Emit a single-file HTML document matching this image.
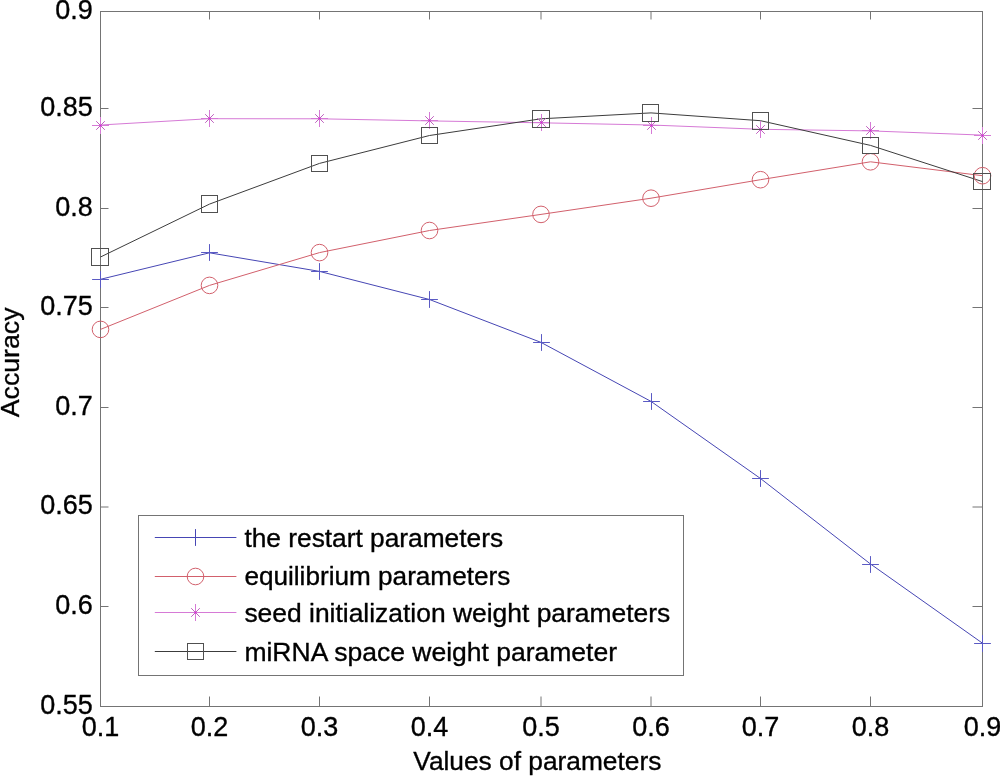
<!DOCTYPE html><html><head><meta charset="utf-8"><title>Accuracy vs parameters</title><style>html,body{margin:0;padding:0;background:#fff;width:1000px;height:776px;overflow:hidden}svg{display:block}text{font-family:"Liberation Sans",Arial,Helvetica,sans-serif;fill:#000;stroke:#000;stroke-width:0.35px;stroke-linejoin:round}</style></head><body>
<svg width="1000" height="776" viewBox="0 0 1000 776">
<rect width="1000" height="776" fill="#fff"/>
<g fill="none" stroke="#747474" stroke-width="1">
<rect x="100.5" y="11.5" width="882.0" height="695.0"/>
<path d="M209.5 706.5V696.5M209.5 11.5V19.5M319.5 706.5V696.5M319.5 11.5V19.5M429.5 706.5V696.5M429.5 11.5V19.5M541.0 706.5V696.5M541.0 11.5V19.5M651.0 706.5V696.5M651.0 11.5V19.5M760.5 706.5V696.5M760.5 11.5V19.5M870.5 706.5V696.5M870.5 11.5V19.5M100.5 108.5H108.5M982.5 108.5H972.5M100.5 208.5H108.5M982.5 208.5H972.5M100.5 307.5H108.5M982.5 307.5H972.5M100.5 407.5H108.5M982.5 407.5H972.5M100.5 507.0H108.5M982.5 507.0H972.5M100.5 606.5H108.5M982.5 606.5H972.5"/>
</g>
<g font-size="27">
<text x="92.8" y="18.9" text-anchor="end">0.9</text>
<text x="92.8" y="115.9" text-anchor="end">0.85</text>
<text x="92.8" y="215.9" text-anchor="end">0.8</text>
<text x="92.8" y="314.9" text-anchor="end">0.75</text>
<text x="92.8" y="414.9" text-anchor="end">0.7</text>
<text x="92.8" y="514.4" text-anchor="end">0.65</text>
<text x="92.8" y="613.9" text-anchor="end">0.6</text>
<text x="92.8" y="713.9" text-anchor="end">0.55</text>
<text x="100.5" y="736" text-anchor="middle">0.1</text>
<text x="209.5" y="736" text-anchor="middle">0.2</text>
<text x="319.5" y="736" text-anchor="middle">0.3</text>
<text x="429.5" y="736" text-anchor="middle">0.4</text>
<text x="541.0" y="736" text-anchor="middle">0.5</text>
<text x="651.0" y="736" text-anchor="middle">0.6</text>
<text x="760.5" y="736" text-anchor="middle">0.7</text>
<text x="870.5" y="736" text-anchor="middle">0.8</text>
<text x="982.5" y="736" text-anchor="middle">0.9</text>
</g>
<text x="413.3" y="770.3" font-size="26.3">Values of parameters</text>
<text transform="translate(18.8 362.35) rotate(-90)" text-anchor="middle" font-size="26.7">Accuracy</text>
<g fill="none" stroke-width="1">
<polyline points="100.5,279.3 209.5,252.8 319.5,271.4 429.5,299.5 541.0,342.4 651.0,401.4 760.5,478.5 870.5,564.0 982.5,643.2" stroke="#4646b4"/>
<polyline points="100.5,329.4 209.5,285.4 319.5,252.6 429.5,230.5 541.0,214.4 651.0,198.2 760.5,179.7 870.5,161.8 982.5,175.7" stroke="#d2606c"/>
<polyline points="100.5,125.0 209.5,118.7 319.5,118.8 429.5,120.9 541.0,122.8 651.0,125.0 760.5,129.3 870.5,130.9 982.5,135.1" stroke="#d67ad6"/>
<polyline points="100.5,257.0 209.5,204.1 319.5,163.4 429.5,135.5 541.0,118.8 651.0,112.9 760.5,120.7 870.5,145.4 982.5,181.6" stroke="#3c3c3c"/>
<path d="M92.10 279.50H108.90M100.50 271.10V287.90" stroke="#5a5ac4"/>
<path d="M201.10 252.50H217.90M209.50 244.10V260.90" stroke="#5a5ac4"/>
<path d="M311.10 271.50H327.90M319.50 263.10V279.90" stroke="#5a5ac4"/>
<path d="M421.10 299.50H437.90M429.50 291.10V307.90" stroke="#5a5ac4"/>
<path d="M533.10 342.50H549.90M541.50 334.10V350.90" stroke="#5a5ac4"/>
<path d="M643.10 401.50H659.90M651.50 393.10V409.90" stroke="#5a5ac4"/>
<path d="M752.10 478.50H768.90M760.50 470.10V486.90" stroke="#5a5ac4"/>
<path d="M862.10 564.50H878.90M870.50 556.10V572.90" stroke="#5a5ac4"/>
<path d="M974.10 643.50H990.90M982.50 635.10V651.90" stroke="#5a5ac4"/>
<circle cx="100.50" cy="329.40" r="8.3" stroke="#d2606c"/>
<circle cx="209.50" cy="285.40" r="8.3" stroke="#d2606c"/>
<circle cx="319.50" cy="252.60" r="8.3" stroke="#d2606c"/>
<circle cx="429.50" cy="230.50" r="8.3" stroke="#d2606c"/>
<circle cx="541.00" cy="214.40" r="8.3" stroke="#d2606c"/>
<circle cx="651.00" cy="198.20" r="8.3" stroke="#d2606c"/>
<circle cx="760.50" cy="179.70" r="8.3" stroke="#d2606c"/>
<circle cx="870.50" cy="161.80" r="8.3" stroke="#d2606c"/>
<circle cx="982.50" cy="175.70" r="8.3" stroke="#d2606c"/>
<path d="M92.00 125.50H109.00M100.50 117.00V134.00" stroke="#d67ad6"/><path d="M96.20 121.20L104.80 129.80M96.20 129.80L104.80 121.20" stroke="#c060c0"/><circle cx="100.50" cy="125.50" r="0.8" fill="#d820d8" stroke="none"/>
<path d="M201.00 118.50H218.00M209.50 110.00V127.00" stroke="#d67ad6"/><path d="M205.20 114.20L213.80 122.80M205.20 122.80L213.80 114.20" stroke="#c060c0"/><circle cx="209.50" cy="118.50" r="0.8" fill="#d820d8" stroke="none"/>
<path d="M311.00 118.50H328.00M319.50 110.00V127.00" stroke="#d67ad6"/><path d="M315.20 114.20L323.80 122.80M315.20 122.80L323.80 114.20" stroke="#c060c0"/><circle cx="319.50" cy="118.50" r="0.8" fill="#d820d8" stroke="none"/>
<path d="M421.00 120.50H438.00M429.50 112.00V129.00" stroke="#d67ad6"/><path d="M425.20 116.20L433.80 124.80M425.20 124.80L433.80 116.20" stroke="#c060c0"/><circle cx="429.50" cy="120.50" r="0.8" fill="#d820d8" stroke="none"/>
<path d="M533.00 122.50H550.00M541.50 114.00V131.00" stroke="#d67ad6"/><path d="M537.20 118.20L545.80 126.80M537.20 126.80L545.80 118.20" stroke="#c060c0"/><circle cx="541.50" cy="122.50" r="0.8" fill="#d820d8" stroke="none"/>
<path d="M643.00 125.50H660.00M651.50 117.00V134.00" stroke="#d67ad6"/><path d="M647.20 121.20L655.80 129.80M647.20 129.80L655.80 121.20" stroke="#c060c0"/><circle cx="651.50" cy="125.50" r="0.8" fill="#d820d8" stroke="none"/>
<path d="M752.00 129.50H769.00M760.50 121.00V138.00" stroke="#d67ad6"/><path d="M756.20 125.20L764.80 133.80M756.20 133.80L764.80 125.20" stroke="#c060c0"/><circle cx="760.50" cy="129.50" r="0.8" fill="#d820d8" stroke="none"/>
<path d="M862.00 130.50H879.00M870.50 122.00V139.00" stroke="#d67ad6"/><path d="M866.20 126.20L874.80 134.80M866.20 134.80L874.80 126.20" stroke="#c060c0"/><circle cx="870.50" cy="130.50" r="0.8" fill="#d820d8" stroke="none"/>
<path d="M974.00 135.50H991.00M982.50 127.00V144.00" stroke="#d67ad6"/><path d="M978.20 131.20L986.80 139.80M978.20 139.80L986.80 131.20" stroke="#c060c0"/><circle cx="982.50" cy="135.50" r="0.8" fill="#d820d8" stroke="none"/>
<rect x="91.5" y="248.5" width="17" height="17" stroke="#505050"/>
<rect x="201.5" y="195.5" width="16" height="17" stroke="#505050"/>
<rect x="311.5" y="155.5" width="16" height="16" stroke="#505050"/>
<rect x="421.5" y="127.5" width="16" height="16" stroke="#505050"/>
<rect x="532.5" y="110.5" width="17" height="17" stroke="#505050"/>
<rect x="642.5" y="104.5" width="16" height="17" stroke="#505050"/>
<rect x="752.5" y="112.5" width="16" height="17" stroke="#505050"/>
<rect x="862.5" y="137.5" width="16" height="16" stroke="#505050"/>
<rect x="973.5" y="173.5" width="17" height="16" stroke="#505050"/>
</g>
<rect x="138.5" y="515.5" width="545" height="160" fill="#fff" stroke="#747474" stroke-width="1"/>
<g fill="none" stroke-width="1">
<path d="M154.8 537.5H236.4" stroke="#4646b4"/>
<path d="M187.10 537.50H203.90M195.50 529.10V545.90" stroke="#4646b4"/>
<path d="M154.8 576.5H236.4" stroke="#d2606c"/>
<circle cx="195.50" cy="576.50" r="8.3" stroke="#d2606c"/>
<path d="M154.8 612.5H236.4" stroke="#d67ad6"/>
<path d="M187.00 612.50H204.00M195.50 604.00V621.00" stroke="#d67ad6"/><path d="M191.20 608.20L199.80 616.80M191.20 616.80L199.80 608.20" stroke="#c060c0"/><circle cx="195.50" cy="612.50" r="0.8" fill="#d820d8" stroke="none"/>
<path d="M154.8 651.5H236.4" stroke="#3c3c3c"/>
<rect x="187.50" y="643.50" width="16" height="16" stroke="#505050"/>
</g>
<text x="244.4" y="547.0" font-size="26.3">the restart parameters</text>
<text x="244.4" y="585.4" font-size="26.15">equilibrium parameters</text>
<text x="244.4" y="622.3" font-size="26.43">seed initialization weight parameters</text>
<text x="244.4" y="660.8" font-size="26.5">miRNA space weight parameter</text>
</svg></body></html>
